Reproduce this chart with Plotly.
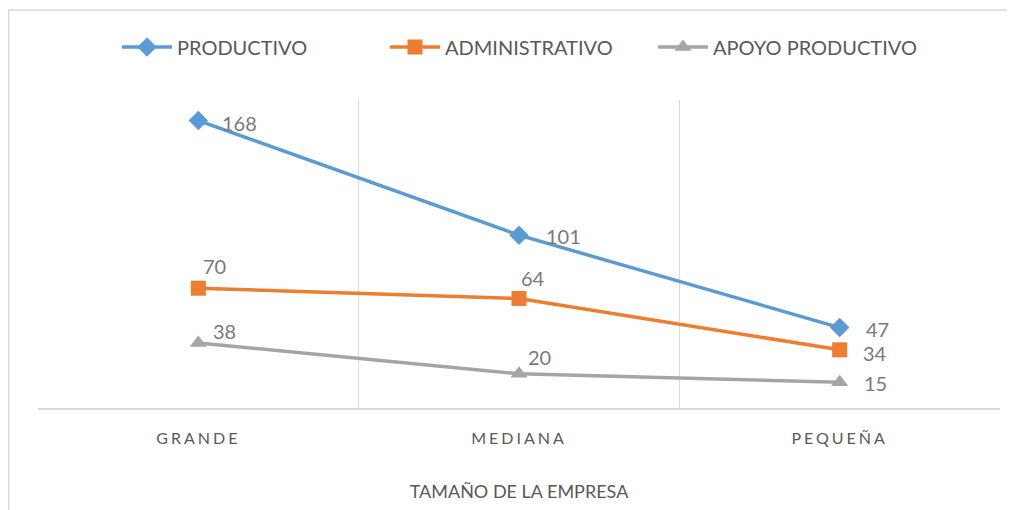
import plotly.graph_objects as go

categories = ["GRANDE", "MEDIANA", "PEQUEÑA"]
productivo = [168, 101, 47]
administrativo = [70, 64, 34]
apoyo = [38, 20, 15]
series_names = ["PRODUCTIVO", "ADMINISTRATIVO", "APOYO PRODUCTIVO"]
x_title = "TAMAÑO DE LA EMPRESA"

FONT = "Lato"
LABEL_COLOR = "#7a7a7a"
TEXT_COLOR = "#595959"

series = [
    (series_names[0], productivo, "#5b9bd5", "diamond",
     [(22, -2), (25, -1), (24, -1)]),
    (series_names[1], administrativo, "#ed7d31", "square",
     [(3, 22), (0, 20), (21, -3)]),
    (series_names[2], apoyo, "#a5a5a5", "triangle-up",
     [(13, 12), (7, 17), (22, -1)]),
]

fig = go.Figure()
annotations = []
for name, vals, color, sym, offs in series:
    fig.add_trace(go.Scatter(
        x=categories, y=vals, name=name, mode="lines+markers",
        line=dict(color=color, width=3.5),
        marker=dict(symbol=sym, size=15, color=color),
    ))
    for c, v, (dx, dy) in zip(categories, vals, offs):
        annotations.append(dict(
            x=c, y=v, xref="x", yref="y", text=str(v), showarrow=False,
            xanchor="left", yanchor="middle", xshift=dx, yshift=dy,
            font=dict(family=FONT, size=20, color=LABEL_COLOR),
        ))

fig.update_layout(
    width=1007, height=502,
    margin=dict(l=30, r=15, t=92, b=102),
    paper_bgcolor="white", plot_bgcolor="white",
    font=dict(family=FONT, color=TEXT_COLOR),
    showlegend=True,
    legend=dict(orientation="h", x=0.5, xanchor="center", y=1.172, yanchor="middle",
                font=dict(family=FONT, size=20, color=TEXT_COLOR),
                itemwidth=50, traceorder="normal",
                entrywidth=203, entrywidthmode="pixels"),
    xaxis=dict(
        type="category",
        categoryorder="array", categoryarray=categories,
        tickmode="array", tickvals=categories,
        ticktext=[f"<span style='letter-spacing:3px'>{c}</span>" for c in categories],
        range=[-0.5, 2.5],
        tickson="boundaries", ticks="", showgrid=True, gridcolor="#d9d9d9", gridwidth=1,
        showline=True, linecolor="#d9d9d9", linewidth=1.5,
        tickfont=dict(family=FONT, size=16, color=TEXT_COLOR),
        ticklabelstandoff=15,
        title=dict(text=x_title, font=dict(family=FONT, size=18, color=TEXT_COLOR), standoff=39),
        zeroline=False,
    ),
    yaxis=dict(range=[0, 180], showgrid=False, showticklabels=False, zeroline=False,
               showline=False, ticks=""),
    annotations=annotations,
)

fig.add_shape(type="rect", xref="paper", yref="paper",
              x0=-0.0304, x1=1.1, y0=-0.4, y1=1.292,
              line=dict(color="#d9d9d9", width=1.5), fillcolor="rgba(0,0,0,0)", layer="below")

fig.write_html("out.html")
